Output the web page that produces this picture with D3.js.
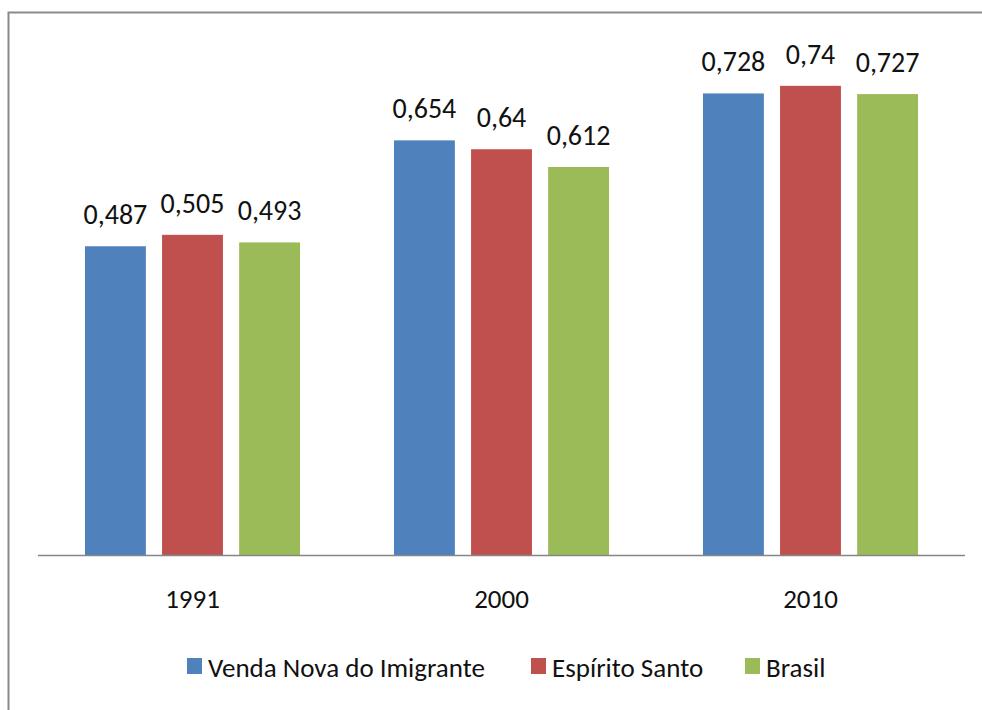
<!DOCTYPE html>
<html>
<head>
<meta charset="utf-8">
<script src="https://cdn.jsdelivr.net/npm/d3@7"></script>
<style>
  html, body { margin: 0; padding: 0; background: #fff; }
  svg { display: block; }
  text { font-family: Carlito, "Liberation Sans Narrow", "DejaVu Sans Condensed", "Open Sans", sans-serif; fill: #111; }
</style>
</head>
<body>
<svg id="chart" width="982" height="710"></svg>
<script>
// IDHM by census year
const years = ["1991", "2000", "2010"];
const seriesNames = ["Venda Nova do Imigrante", "Espírito Santo", "Brasil"];
const vendaNova = [0.487, 0.654, 0.728];
const espiritoSanto = [0.505, 0.640, 0.740];
const brasil = [0.493, 0.612, 0.727];
const seriesColors = ["#4F81BD", "#C0504D", "#9BBB59"];

const seriesValues = [vendaNova, espiritoSanto, brasil];
const rows = years.map((y, i) => ({
  year: y,
  values: seriesNames.map((name, s) => ({ name, s, value: seriesValues[s][i] }))
}));

const svg = d3.select("#chart");

// outer frame
svg.append("rect")
  .attr("x", 8.5).attr("y", 12.5)
  .attr("width", 1000).attr("height", 720)
  .attr("fill", "none")
  .attr("stroke", "#8a8a8a")
  .attr("stroke-width", 2);

const plot = { left: 38, right: 965, baseline: 555 };

const x0 = d3.scaleBand()
  .domain(years)
  .range([plot.left, plot.right])
  .paddingInner(0.304)
  .paddingOuter(0.152);

const x1 = d3.scaleBand()
  .domain(seriesNames)
  .range([0, x0.bandwidth()])
  .paddingInner(0.21);

const y = d3.scaleLinear()
  .domain([0, 0.8])
  .range([plot.baseline, plot.baseline - 0.8 * 634]);

const groups = svg.append("g").selectAll("g")
  .data(rows)
  .join("g")
  .attr("transform", d => `translate(${x0(d.year)},0)`);

groups.selectAll("rect")
  .data(d => d.values)
  .join("rect")
  .attr("x", d => x1(d.name))
  .attr("y", d => y(d.value))
  .attr("width", x1.bandwidth())
  .attr("height", d => y(0) - y(d.value))
  .attr("fill", d => seriesColors[d.s]);

const fmt = v => String(+v.toFixed(3)).replace(".", ",");

groups.selectAll("text.value")
  .data(d => d.values)
  .join("text")
  .attr("class", "value")
  .attr("x", d => x1(d.name) + x1.bandwidth() / 2)
  .attr("y", d => y(d.value) - 22)
  .attr("text-anchor", "middle")
  .attr("font-size", 28)
  .text(d => fmt(d.value));

// category axis
const xAxis = d3.axisBottom(x0).tickSize(0).tickPadding(0);
const axisG = svg.append("g")
  .attr("transform", `translate(0,${plot.baseline})`)
  .call(xAxis);
axisG.select(".domain").remove();
axisG.selectAll("text")
  .attr("dy", null)
  .attr("y", 53)
  .attr("font-size", 27)
  .style("font-family", null)
  .attr("fill", "#111");
axisG.attr("font-family", null).attr("font-size", null);

svg.append("line")
  .attr("x1", plot.left).attr("x2", plot.right)
  .attr("y1", plot.baseline + 0.5).attr("y2", plot.baseline + 0.5)
  .attr("stroke", "#868686")
  .attr("stroke-width", 1.5);

// legend
const legendX = [187, 531, 745];
const legend = svg.append("g").selectAll("g")
  .data(seriesNames)
  .join("g")
  .attr("transform", (d, i) => `translate(${legendX[i]},658)`);
legend.append("rect")
  .attr("width", 15).attr("height", 16)
  .attr("fill", (d, i) => seriesColors[i]);
legend.append("text")
  .attr("x", 21).attr("y", 19)
  .attr("font-size", 27)
  .text(d => d);
</script>
</body>
</html>
